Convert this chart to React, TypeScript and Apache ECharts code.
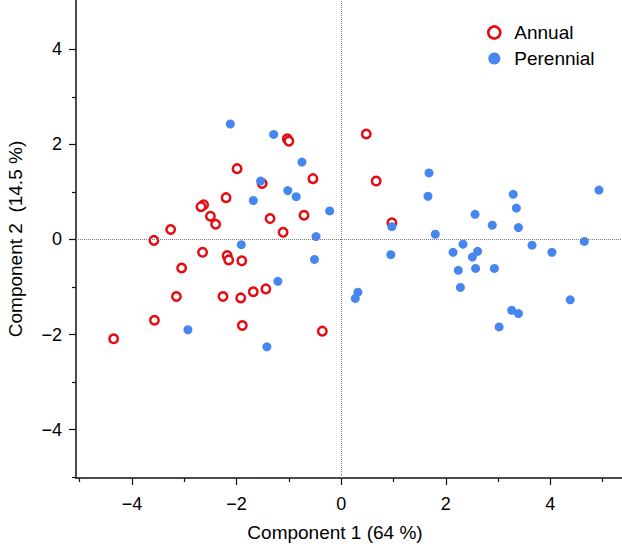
import React, { useEffect, useRef } from "react";
import * as echarts from "echarts";

const seriesNames = ["Annual", "Perennial"];
const xTitle = "Component 1 (64 %)";
const yTitle = "Component 2  (14.5 %)";
const majorTicks = [-4, -2, 0, 2, 4];
const xMinorTicks = [-5, -3, -1, 1, 3, 5];
const yMinorTicks = [-5, -3, -1, 1, 3];
const xRange = [-5.07, 5.37];
const yRange = [-5.02, 5.04];

const annualPoints: [number, number][] = [
  [-1.99, 1.49], [-1.51, 1.18], [-2.2, 0.88], [-2.63, 0.73], [-2.68, 0.69],
  [-2.5, 0.49], [-2.4, 0.32], [-1.36, 0.44], [-3.26, 0.21], [-3.58, -0.02],
  [-2.65, -0.27], [-2.18, -0.34], [-2.15, -0.43], [-1.9, -0.45], [-3.05, -0.6],
  [-3.15, -1.2], [-2.26, -1.2], [-1.92, -1.23], [-1.68, -1.1], [-1.44, -1.04],
  [-3.57, -1.7], [-1.89, -1.81], [-4.35, -2.09], [-1.03, 2.12], [-1.0, 2.07],
  [0.48, 2.22], [-0.54, 1.28], [0.67, 1.23], [-0.71, 0.51], [-1.11, 0.15],
  [0.97, 0.35], [-0.36, -1.93],
];

const perennialPoints: [number, number][] = [
  [-2.12, 2.43], [-1.29, 2.21], [-0.75, 1.63], [-1.54, 1.23], [-1.68, 0.82],
  [-1.02, 1.03], [-0.86, 0.9], [-0.22, 0.6], [-1.91, -0.11], [-0.48, 0.06],
  [-0.51, -0.42], [-1.21, -0.88], [-2.93, -1.9], [-1.42, -2.26], [0.97, 0.27],
  [0.95, -0.32], [0.32, -1.11], [0.27, -1.24], [1.68, 1.4], [1.66, 0.91],
  [4.93, 1.04], [3.29, 0.95], [3.35, 0.66], [2.56, 0.53], [2.89, 0.3],
  [3.39, 0.25], [1.8, 0.11], [2.33, -0.1], [3.65, -0.12], [4.65, -0.04],
  [2.14, -0.27], [2.61, -0.25], [4.03, -0.27], [2.51, -0.37], [2.24, -0.65],
  [2.57, -0.61], [2.93, -0.61], [2.28, -1.01], [4.38, -1.27], [3.26, -1.49],
  [3.39, -1.56], [3.02, -1.84],
];

const RED = "#e60c14";
const BLUE = "#4686ef";

export default function App() {
  const ref = useRef<HTMLDivElement>(null);
  useEffect(() => {
    const chart = echarts.init(ref.current!, null, { renderer: "svg" });
    const font = "'Liberation Sans', Arial, Helvetica, sans-serif";
    const axisColor = "#111";
    const textColor = "#000";
    const fmt = (v: number) => (v < 0 ? "\u2212" + Math.abs(v) : String(v));

    const baseAxis = (range: number[]) => ({
      type: "value",
      min: range[0],
      max: range[1],
      splitLine: { show: false },
    });

    chart.setOption({
      animation: false,
      backgroundColor: "#fff",
      textStyle: { fontFamily: font },
      grid: { left: 76, right: 0, top: 0, bottom: 69, containLabel: false, outerBoundsMode: "none" },
      legend: {
        orient: "vertical",
        left: 482,
        top: 18,
        padding: 5,
        itemWidth: 12,
        itemHeight: 12,
        itemGap: 7,
        textStyle: { fontSize: 19, color: textColor, fontFamily: font, lineHeight: 19, padding: [0, 0, 0, 9] },
        data: [
          { name: seriesNames[0], icon: "circle", itemStyle: { color: "#fff", borderColor: RED, borderWidth: 2.6 } },
          { name: seriesNames[1], icon: "circle", itemStyle: { color: BLUE, borderWidth: 0 } },
        ],
      },
      xAxis: [
        {
          ...baseAxis(xRange),
          position: "bottom",
          name: xTitle,
          nameLocation: "middle",
          nameGap: 45,
          nameTextStyle: { fontSize: 19, color: textColor, fontFamily: font, padding: [0, 28, 0, 0] },
          axisLine: { show: true, onZero: false, lineStyle: { color: axisColor, width: 1.5 } },
          axisTick: { show: true, customValues: majorTicks, length: 7, lineStyle: { color: axisColor, width: 1.2 } },
          axisLabel: { show: true, customValues: majorTicks, formatter: fmt, fontSize: 18, color: textColor, margin: 17, fontFamily: font },
        },
        {
          ...baseAxis(xRange),
          position: "bottom",
          axisLine: { show: false, onZero: false },
          axisTick: { show: true, customValues: xMinorTicks, length: 4, lineStyle: { color: axisColor, width: 1.2 } },
          axisLabel: { show: false, customValues: xMinorTicks },
        },
      ],
      yAxis: [
        {
          ...baseAxis(yRange),
          position: "left",
          name: yTitle,
          nameLocation: "middle",
          nameGap: 51,
          nameTextStyle: { fontSize: 19, color: textColor, fontFamily: font },
          axisLine: { show: true, onZero: false, lineStyle: { color: axisColor, width: 1.5 } },
          axisTick: { show: true, customValues: majorTicks, length: 7, lineStyle: { color: axisColor, width: 1.2 } },
          axisLabel: { show: true, customValues: majorTicks, formatter: fmt, fontSize: 18, color: textColor, margin: 14, fontFamily: font },
        },
        {
          ...baseAxis(yRange),
          position: "left",
          axisLine: { show: false, onZero: false },
          axisTick: { show: true, customValues: yMinorTicks, length: 4, lineStyle: { color: axisColor, width: 1.2 } },
          axisLabel: { show: false, customValues: yMinorTicks },
        },
      ],
      series: [
        {
          name: "zero-lines",
          type: "scatter",
          data: [],
          z: 1,
          silent: true,
          markLine: {
            silent: true,
            symbol: ["none", "none"],
            label: { show: false },
            lineStyle: { type: "dotted", color: "#7a7a7a", width: 1 },
            data: [{ xAxis: 0 }, { yAxis: 0 }],
          },
        },
        {
          name: seriesNames[0],
          type: "scatter",
          z: 2,
          symbol: "circle",
          symbolSize: 8.5,
          itemStyle: { color: "#fff", borderColor: RED, borderWidth: 2.5, opacity: 1 },
          data: annualPoints,
        },
        {
          name: seriesNames[1],
          type: "scatter",
          z: 3,
          symbol: "circle",
          symbolSize: 9,
          itemStyle: { color: BLUE, opacity: 1 },
          data: perennialPoints,
        },
      ],
    });
    return () => chart.dispose();
  }, []);
  return (
    <div
      ref={ref}
      style={{ position: "fixed", left: 0, top: 0, width: 622, height: 547, background: "#fff" }}
    />
  );
}
